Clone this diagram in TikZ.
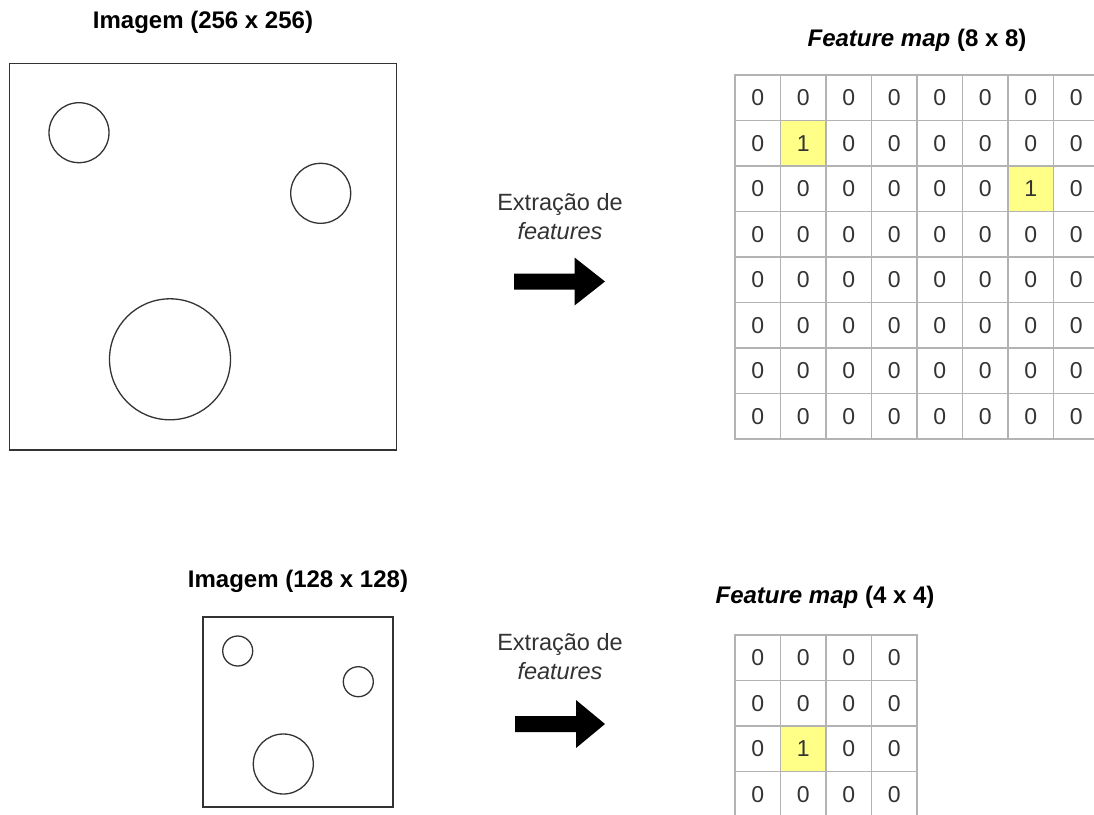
\documentclass[tikz,border=0pt]{standalone}
\usepackage{fontspec}
\setmainfont{Liberation Sans}
\usepackage{tikz}
\usetikzlibrary{calc}

\definecolor{gridgray}{HTML}{B3B3B3}
\definecolor{hityellow}{HTML}{FFFF88}
\definecolor{inkgray}{HTML}{333333}

\tikzset{
  title/.style={font=\fontsize{24}{28}\selectfont\bfseries, text=black, anchor=base},
  label/.style={font=\fontsize{23.5}{29}\selectfont, text=inkgray, align=center},
  frame/.style={draw=inkgray, line width=1.3pt},
  gridline/.style={draw=gridgray, line width=1.3pt, line cap=rect},
  cell/.style={minimum size=45.5pt, inner sep=0pt,
    font=\fontsize{23}{27}\selectfont, text=inkgray},
  hit/.style={cell, fill=hityellow},
}

\begin{document}
\begin{tikzpicture}[x=1pt, y=-1pt]
  \useasboundingbox (0,0) rectangle (1094,814);
  \fill[white] (0,0) rectangle (1094,814);

  % 256 x 256 input
  \node[title] (imgA) at (203,28) {Imagem (256 x 256)};
  \draw[frame] (9.5,63.5) rectangle (396.5,450);
  \draw[frame] (79,132.7) circle[radius=30];
  \draw[frame] (320.7,193.3) circle[radius=30];
  \draw[frame] (170,359.3) circle[radius=60.5];

  % 128 x 128 input
  \node[title] (imgB) at (298,587) {Imagem (128 x 128)};
  \draw[frame] (203,617) rectangle (393,807);
  \draw[frame] (237.7,651) circle[radius=15];
  \draw[frame] (358.3,681.7) circle[radius=15];
  \draw[frame] (283.3,764) circle[radius=30];

  % extraction arrows
  \node[label] (extA) at (560,217) {Extração de\\\textit{features}};
  \fill[black] (514,273.5) -- (574.5,273.5) -- (574.5,257.5) -- (605,281.5) -- (574.5,305.5) -- (574.5,289.5) -- (514,289.5) -- cycle;
  \node[label] (extB) at (560,657) {Extração de\\\textit{features}};
  \fill[black] (515,716) -- (576,716) -- (576,700) -- (605,724) -- (576,748) -- (576,732) -- (515,732) -- cycle;

  % 8 x 8 feature map
  \node[title] (mapA) at (917,46) {\itshape Feature map\upshape\ (8 x 8)};
  \foreach \r in {1,...,8}
    \foreach \c in {1,...,8}
      \node[cell] (a\r\c) at ({735+45.5*(\c-0.5)},{75+45.5*(\r-0.5)}) {0};
  \node[hit] (hitA) at (a22) {1};
  \node[hit] (hitB) at (a37) {1};
  \foreach \i in {0,...,8} {
    \draw[gridline] ({735+45.5*\i},75) -- ({735+45.5*\i},439);
    \draw[gridline] (735,{75+45.5*\i}) -- (1099,{75+45.5*\i});
  }

  % 4 x 4 feature map
  \node[title] (mapB) at (825,603.5) {\itshape Feature map\upshape\ (4 x 4)};
  \foreach \r in {1,...,4}
    \foreach \c in {1,...,4}
      \node[cell] (b\r\c) at ({735+45.5*(\c-0.5)},{635+45.5*(\r-0.5)}) {0};
  \node[hit] (hitC) at (b32) {1};
  \foreach \i in {0,...,4} {
    \draw[gridline] ({735+45.5*\i},635) -- ({735+45.5*\i},817);
    \draw[gridline] (735,{635+45.5*\i}) -- (917,{635+45.5*\i});
  }
\end{tikzpicture}
\end{document}
